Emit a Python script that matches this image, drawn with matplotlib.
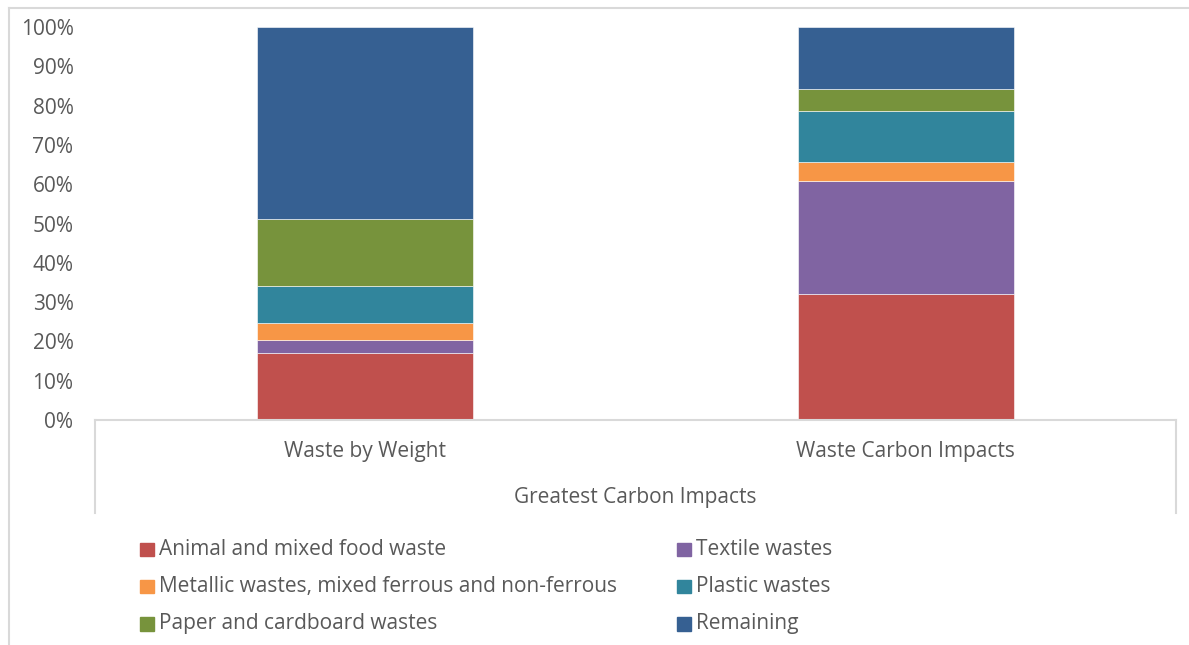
import matplotlib
matplotlib.use("Agg")
import matplotlib.pyplot as plt
from matplotlib.patches import Rectangle
from matplotlib.lines import Line2D
from matplotlib.ticker import PercentFormatter
import numpy as np

categories = ["Waste by Weight", "Waste Carbon Impacts"]
group_label = "Greatest Carbon Impacts"
series_names = ["Animal and mixed food waste", "Textile wastes",
                "Metallic wastes, mixed ferrous and non-ferrous", "Plastic wastes",
                "Paper and cardboard wastes", "Remaining"]
animal = [17.1, 32.1]
textile = [3.2, 28.8]
metallic = [4.3, 4.7]
plastic = [9.5, 13.1]
paper = [17.0, 5.4]
remaining = [48.9, 15.9]
colors = ["#C0504D", "#8064A2", "#F79646", "#31859C", "#77933C", "#366092"]
yticks = [0, 10, 20, 30, 40, 50, 60, 70, 80, 90, 100]

plt.rcParams['font.family'] = ['Open Sans', 'DejaVu Sans']
TXT = "#595959"
GRID = "#D9D9D9"
FS = 15

W, H = 1189, 645
fig = plt.figure(figsize=(W / 100, H / 100), dpi=100)

def fx(px):
    return px / W

def fy(py):
    return 1 - py / H

ax = fig.add_axes([fx(95), fy(420), fx(1176) - fx(95), fy(27) - fy(420)])
series = [animal, textile, metallic, plastic, paper, remaining]
x = np.arange(len(categories))
bottom = np.zeros(len(categories))
for name, vals, c in zip(series_names, series, colors):
    v = np.array(vals) / 100.0
    ax.bar(x, v, 0.4, bottom=bottom, color=c, edgecolor="#FFFFFF", linewidth=0.4, label=name)
    bottom += v

ax.set_xlim(-0.5, 1.5)
ax.set_ylim(0, 1)
ax.set_yticks(np.array(yticks) / 100.0)
ax.yaxis.set_major_formatter(PercentFormatter(1.0, decimals=0))
ax.tick_params(axis='y', length=0, pad=15.5, labelsize=FS, labelcolor=TXT)
ax.set_xticks([])
for s in ["top", "right", "left"]:
    ax.spines[s].set_visible(False)
ax.spines["bottom"].set_color(GRID)
ax.spines["bottom"].set_linewidth(1.5)

# category labels
for xi, lab in zip(x, categories):
    ax.annotate(lab, xy=(xi, 0), xycoords=('data', 'axes fraction'),
                xytext=(0, -31), textcoords='offset pixels',
                ha='center', va='center', fontsize=FS, color=TXT)
fig.text(fx(635.5), fy(497), group_label, ha='center', va='center', fontsize=FS, color=TXT)

# category box lines and outer border
for line in [
    ((95, 95), (420, 513)),
    ((1176, 1176), (420, 513)),
    ((9, 1189), (8, 8)),
    ((9, 9), (8, 645)),
]:
    fig.add_artist(Line2D([fx(p) for p in line[0]], [fy(p) for p in line[1]],
                          color=GRID, linewidth=1.5))

# legend (row-wise order)
col_x = [140, 677]
row_y = [549.5, 586.7, 624]
for i, (name, c) in enumerate(zip(series_names, colors)):
    r, col = divmod(i, 2)
    sx, sy = col_x[col], row_y[r]
    fig.add_artist(Rectangle((fx(sx), fy(sy + 6.5)), fx(13.5), 13.5 / H, color=c,
                             transform=fig.transFigure))
    fig.text(fx(sx + 19), fy(sy), name, ha='left', va='center', fontsize=FS, color=TXT)

fig.savefig("out.png", dpi=100, facecolor="white")
